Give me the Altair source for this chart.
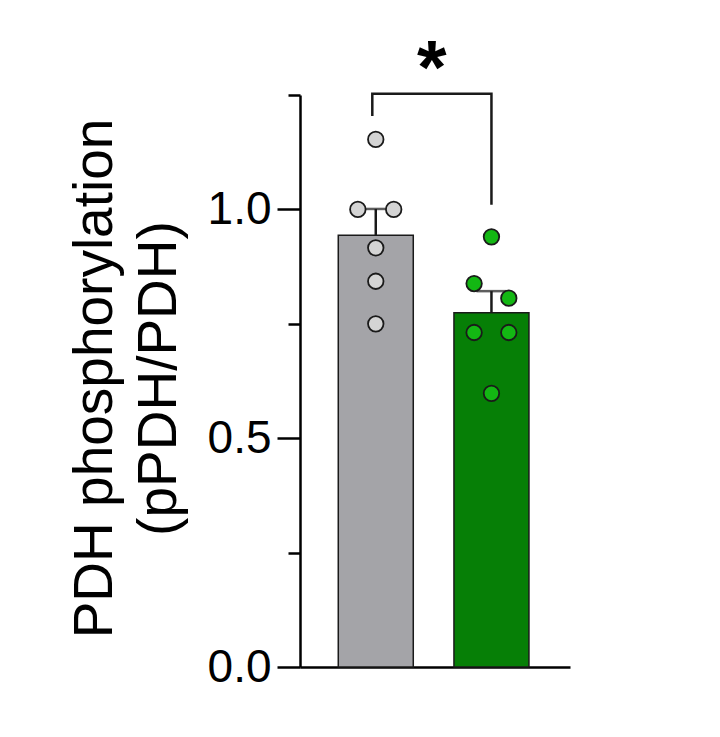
import altair as alt
import numpy as np
import pandas as pd

# ---- data ----
groups = ["Control", "Treatment"]
group_pos = [1, 2]
ctrl_vals = [1.153, 1.000, 1.000, 0.916, 0.843, 0.750]
ctrl_jit = [0.0, -0.155, 0.155, 0.0, 0.0, 0.0]
trt_vals = [0.940, 0.838, 0.806, 0.731, 0.731, 0.598]
trt_jit = [0.0, -0.15, 0.15, -0.15, 0.15, 0.0]
bracket_x = [0.97, 0.97, 2.0, 2.0]
bracket_y = [1.207, 1.253, 1.253, 1.013]
sig_label = "*"
sig_y = 1.305
y_ticks = [0, 0.25, 0.5, 0.75, 1.0, 1.25]
y_title = ["PDH phosphorylation", "(pPDH/PDH)"]

bar_colors = ["#a4a4a8", "#067f06"]
point_colors = ["#d4d4d4", "#13b713"]

# ---- tables ----
pts = pd.DataFrame({
    "group": [groups[0]] * len(ctrl_vals) + [groups[1]] * len(trt_vals),
    "value": ctrl_vals + trt_vals,
    "x": [group_pos[0] + j for j in ctrl_jit] + [group_pos[1] + j for j in trt_jit],
})
summ = []
for g, p, v in zip(groups, group_pos, [ctrl_vals, trt_vals]):
    a = np.array(v)
    m = a.mean()
    sem = a.std(ddof=1) / np.sqrt(len(a))
    summ.append({"group": g, "x": p, "mean": m, "upper": m + sem})
summ = pd.DataFrame(summ)
br = pd.DataFrame({"x": bracket_x, "y": bracket_y, "o": list(range(len(bracket_x)))})
sig = pd.DataFrame({"x": [(bracket_x[0] + bracket_x[-1]) / 2], "y": [sig_y], "t": [sig_label]})

xscale = alt.Scale(domain=[0.345, 2.679], nice=False, zero=False, padding=0)
yscale = alt.Scale(domain=[0, 1.25], nice=False, padding=0)

FONT = "Liberation Sans"

bars = alt.Chart(summ).mark_bar(width=75, stroke="#1a1a1a", strokeWidth=1.5).encode(
    x=alt.X("x:Q", scale=xscale,
            axis=alt.Axis(labels=False, ticks=False, domain=True, grid=False, title=None,
                          domainColor="black", domainWidth=2.5)),
    y=alt.Y("mean:Q", scale=yscale,
            axis=alt.Axis(values=y_ticks, grid=False, title=y_title,
                          labelExpr="datum.value % 0.5 == 0 ? format(datum.value, '.1f') : ''",
                          tickSize={"condition": {"test": "datum.value % 0.5 != 0", "value": 12}, "value": 23},
                          tickWidth=2.5, tickColor="black", domainColor="black", domainWidth=2.5,
                          labelFont=FONT, labelFontSize=46, labelColor="black", labelPadding=6,
                          titleFont=FONT, titleFontSize=55, titleFontWeight="normal", titleColor="black",
                          titleLineHeight=64, titleAngle=-90, titleBaseline="alphabetic",
                          titleAlign="center", titleX=-189, titleY=283)),
    fill=alt.Fill("group:N", scale=alt.Scale(domain=groups, range=bar_colors), legend=None),
)

err = alt.Chart(summ).mark_rule(color="#1a1a1a", strokeWidth=2.5).encode(
    x=alt.X("x:Q", scale=xscale), y=alt.Y("mean:Q", scale=yscale), y2="upper:Q")
cap = alt.Chart(summ).mark_tick(color="#1a1a1a", thickness=2.5, size=30, orient="horizontal").encode(
    x=alt.X("x:Q", scale=xscale), y=alt.Y("upper:Q", scale=yscale))

points = alt.Chart(pts).mark_point(shape="circle", filled=True, size=240, stroke="#1a1a1a",
                                   strokeWidth=1.8, opacity=1).encode(
    x=alt.X("x:Q", scale=xscale), y=alt.Y("value:Q", scale=yscale),
    fill=alt.Fill("group:N", scale=alt.Scale(domain=groups, range=point_colors), legend=None),
)

bracket = alt.Chart(br).mark_line(color="#1a1a1a", strokeWidth=2.5, strokeCap="square").encode(
    x=alt.X("x:Q", scale=xscale), y=alt.Y("y:Q", scale=yscale), order="o:Q")

star = alt.Chart(sig).mark_text(font=FONT, fontSize=76, fontWeight="bold", color="black",
                                baseline="middle", align="center").encode(
    x=alt.X("x:Q", scale=xscale), y=alt.Y("y:Q", scale=yscale), text="t:N")

chart = alt.layer(bars, err, cap, points, bracket, star).resolve_scale(fill="independent").properties(
    width=270, height=572,
    background="white",
    autosize=alt.AutoSizeParams(type="none"),
    padding={"left": 292, "top": 87, "right": 142, "bottom": 54},
).configure_view(strokeWidth=0, stroke="transparent")

chart.save("out.html", embed_options={"renderer": "svg", "actions": False})
